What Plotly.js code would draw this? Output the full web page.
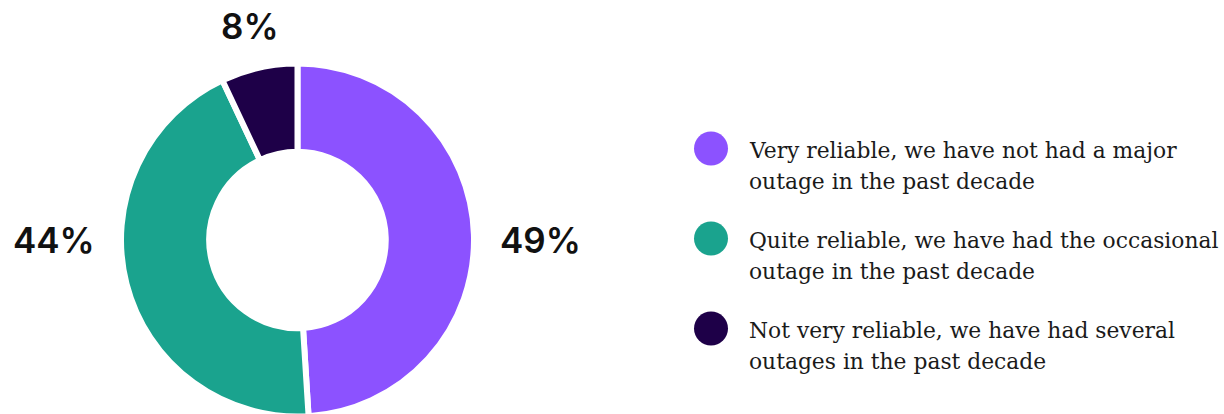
<!DOCTYPE html>
<html><head><meta charset="utf-8">
<script src="https://cdn.plot.ly/plotly-3.0.1.min.js"></script>
<style>html,body{margin:0;padding:0;overflow:hidden;background:#fff}#chart{width:1224px;height:420px}</style>
</head><body><div id="chart"></div><script>
// ---- data ----
const categories = [
  "Very reliable, we have not had a major<br>outage in the past decade",
  "Quite reliable, we have had the occasional<br>outage in the past decade",
  "Not very reliable, we have had several<br>outages in the past decade"
];
const shares = [49, 44, 7];
const shareLabels = ["49%", "44%", "8%"];
const colors = ["#8C52FF", "#1AA38E", "#1E0048"];

// ---- layout constants ----
const W = 1224, H = 420;
const cx = 297.5, cy = 240, R = 176.5, lineW = 6;
const Rvis = R - lineW / 2;
const sideGap = 28, topGap = 46;
const labelSize = 35, legendSize = 21.8;
const px = x => x / W, py = y => 1 - y / H;

const annotations = [];
const shapes = [];

// percentage labels positioned from slice mid-angles
const total = shares.reduce((a, b) => a + b, 0);
let cum = 0;
shares.forEach((v, i) => {
  const mid = (cum + v / 2) / total * 2 * Math.PI;
  cum += v;
  const s = Math.sin(mid), c = Math.cos(mid);
  let a;
  if (Math.abs(s) > 0.7) {
    a = {x: px(cx + Math.sign(s) * (Rvis + sideGap)), y: py(cy),
         xanchor: s > 0 ? 'left' : 'right', yanchor: 'middle'};
  } else {
    const rr = Rvis + topGap;
    a = {x: px(cx + rr * s), y: py(cy - rr * c), xanchor: 'center', yanchor: 'middle'};
  }
  annotations.push(Object.assign(a, {
    xref: 'paper', yref: 'paper', showarrow: false, text: shareLabels[i], borderpad: 0,
    font: {family: 'Inter, "Open Sans", sans-serif', size: labelSize, weight: 600, color: '#111111'}
  }));
});

// custom legend with circle markers
const legX = 711, legR = 17, legTextX = 748, legFirstBase = 157, legItemStep = 90, legLineStep = 31;
categories.forEach((lab, i) => {
  const base = legFirstBase + i * legItemStep;
  const cyy = base - 8.5;
  shapes.push({type: 'circle', xref: 'paper', yref: 'paper',
    x0: px(legX - legR), x1: px(legX + legR), y0: py(cyy + legR), y1: py(cyy - legR),
    fillcolor: colors[i], line: {width: 0}});
  lab.split('<br>').forEach((ln, j) => {
    annotations.push({xref: 'paper', yref: 'paper', showarrow: false,
      x: px(legTextX), y: py(base + j * legLineStep - 0.3 * legendSize), xanchor: 'left', yanchor: 'middle',
      text: ln, borderpad: 0,
      font: {family: '"DejaVu Serif", serif', size: legendSize, color: '#1a1a1a'}});
  });
});

const data = [{
  type: 'pie', values: shares, labels: categories, text: shareLabels,
  hole: 0.5, sort: false, direction: 'clockwise', rotation: 0,
  textinfo: 'none', hoverinfo: 'label+text',
  marker: {colors: colors, line: {color: '#ffffff', width: lineW}},
  domain: {x: [px(cx - R), px(cx + R)], y: [(H - cy - R) / H, (H - cy + R) / H]},
  showlegend: false
}];

const layout = {
  width: W, height: H, margin: {l: 0, r: 0, t: 0, b: 0},
  paper_bgcolor: '#ffffff', plot_bgcolor: '#ffffff',
  showlegend: false, annotations: annotations, shapes: shapes
};

Plotly.newPlot('chart', data, layout, {displayModeBar: false, staticPlot: true});
</script></body></html>
